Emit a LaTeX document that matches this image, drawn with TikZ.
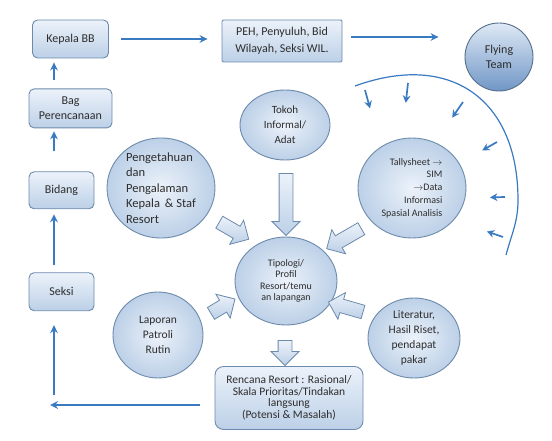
\documentclass[tikz,border=0pt]{standalone}
\usepackage{fontspec}
\setmainfont{Carlito}
\usepackage{tikz}
\usetikzlibrary{arrows.meta,positioning,shapes.geometric,shapes.arrows,calc}
\definecolor{planblue}{RGB}{58,122,192}
\definecolor{planline}{RGB}{108,138,172}
\definecolor{planfilltop}{RGB}{236,242,250}
\definecolor{planfillbot}{RGB}{188,208,231}
\definecolor{plantext}{RGB}{45,45,45}
\definecolor{teamtop}{RGB}{222,233,245}
\definecolor{teambot}{RGB}{112,150,198}

\begin{document}
\begin{tikzpicture}[
  x=1pt, y=-1pt,
  font=\fontsize{12}{15}\selectfont,
  arrow/.style={-{Stealth[length=2.8mm,width=2.7mm]}, line width=1.7pt, draw=planblue},
  tick/.style={-{Stealth[length=2.6mm,width=2.7mm]}, line width=1.7pt, draw=planblue},
  block/.style={draw=planline, line width=0.9pt, rounded corners=1.8mm, align=center,
    top color=planfilltop, bottom color=planfillbot, text=plantext, inner sep=2pt},
  blob/.style={ellipse, draw=planline, line width=0.9pt, align=center, inner sep=0pt,
    inner color=planfilltop, outer color=planfillbot, text=plantext},
  team/.style={circle, draw=planline!80!black, line width=0.9pt, align=center, inner sep=0pt,
    top color=teamtop, bottom color=teambot, text=plantext, minimum size=68pt},
  fat/.style={single arrow, draw=planline, line width=0.8pt, top color=planfilltop,
    bottom color=planfillbot, single arrow head extend=7pt, inner sep=0pt,
    inner ysep=6.5pt, text height=0pt, text depth=0pt}
]
\useasboundingbox (0,0) rectangle (552,441);

\node[block, minimum width=76pt, minimum height=38pt] (kepala) at (70.5,39) {Kepala BB};
\node[block, minimum width=83pt, minimum height=39pt, below=30pt of kepala] (bag)
  {Bag\\Perencanaan};
\node[block, minimum width=65pt, minimum height=37pt, below=43pt of bag.south west,
  anchor=north west] (bidang) {Bidang};
\node[block, minimum width=65pt, minimum height=38pt, below=63pt of bidang] (seksi) {Seksi};

\node[block, rounded corners=0.4mm, minimum width=120pt, minimum height=42pt,
  font=\fontsize{12}{17}\selectfont] (peh) at (282,41) {PEH, Penyuluh, Bid\\Wilayah, Seksi WIL.};
\node[team] (team) at (499,57) {Flying\\Team};

\node[blob, minimum width=90pt, minimum height=70pt, font=\fontsize{11}{15}\selectfont]
  (tokoh) at (285,125) {Tokoh\\Informal/\\Adat};
\node[blob, minimum width=108pt, minimum height=94pt, align=left,
  font=\fontsize{12.5}{15.5}\selectfont] (tahu) at (161,188)
  {Pengetahuan\\dan\\Pengalaman\\Kepala \,\& Staf\\Resort};
\node[blob, minimum width=108pt, minimum height=100pt, align=right,
  font=\fontsize{10}{12.7}\selectfont] (tally) at (412,188)
  {Tallysheet $\rightarrow$\\SIM\\$\rightarrow$Data\\Informasi\\Spasial Analisis};
\node[blob, minimum width=102pt, minimum height=88pt, font=\fontsize{10}{11.5}\selectfont]
  (tipologi) at (286,281) {Tipologi/\\Profil\\Resort/temu\\an lapangan};
\node[blob, minimum width=90pt, minimum height=86pt, font=\fontsize{11.5}{15}\selectfont]
  (laporan) at (158,335) {Laporan\\Patroli\\Rutin};
\node[blob, minimum width=92pt, minimum height=80pt, font=\fontsize{11.5}{15}\selectfont]
  (literatur) at (414,338) {Literatur,\\Hasil Riset,\\pendapat\\pakar};
\node[block, rounded corners=3mm, minimum width=148pt, minimum height=63pt,
  font=\fontsize{11.5}{11.5}\selectfont] (rencana) at (289,398)
  {Rencana Resort : Rasional/\\Skala Prioritas/Tindakan\\langsung\\(Potensi \& Masalah)};

\node[fat, rotate=-90, minimum height=62pt] (downtokoh) at (286,201) {};
\node[fat, rotate=-90, minimum height=25pt] (downrencana) at (285,349.5) {};
\node[fat, rotate=-30, minimum height=34pt] (fromtahu) at (231,229) {};
\node[fat, rotate=-150, minimum height=40pt] (fromtally) at (347,237) {};
\node[fat, rotate=31, minimum height=28pt] (fromlaporan) at (220,308) {};
\node[fat, rotate=164, minimum height=36pt] (fromliteratur) at (349,308) {};

\coordinate (spine) at (54,0);
\coordinate (corner) at (50,405);
\coordinate (arcstart) at (355,86);
\coordinate (arcmid) at (518,200);
\coordinate (arcend) at (506,255);
\coordinate (hub) at (395,200);

\draw[arrow, line width=2pt] (kepala.east) ++(12,0) -- ($(kepala.east -| peh.west)+(-14,0)$);
\draw[arrow, line width=2pt] ([yshift=4pt]peh.east) ++(9,0) -- ($([yshift=4pt]peh.east -| team.west)+(-26,0)$);
\draw[arrow, shorten <=8pt, shorten >=4pt] (bag.north -| spine) -- (kepala.south -| spine);
\draw[arrow, shorten <=20pt, shorten >=3pt] (bidang.north -| spine) -- (bag.south -| spine);
\draw[arrow, shorten <=7pt, shorten >=5pt] (seksi.north -| spine) -- (bidang.south -| spine);
\draw[arrow, shorten <=15pt] ([yshift=-7pt]rencana.west) -- (corner);
\draw[arrow, shorten <=10pt, shorten >=14pt] (corner -| spine) -- (seksi.south -| spine);

\draw[planblue, line width=1.2pt] (arcstart) to[out=20, in=90, looseness=1.3] (arcmid)
  to[out=-90, in=75] (arcend);

\draw[tick] (365,90) -- ($(365,90)!19pt!(hub)$);
\draw[tick] (408,83) -- ($(408,83)!20pt!(hub)$);
\draw[tick] (463,102) -- ($(463,102)!19pt!(hub)$);
\draw[tick] (497,142) -- ($(497,142)!17pt!(hub)$);
\draw[tick] (505,197) -- ($(505,197)!15pt!(hub)$);
\draw[tick] (503,237) -- ($(503,237)!17pt!(hub)$);

\end{tikzpicture}
\end{document}
